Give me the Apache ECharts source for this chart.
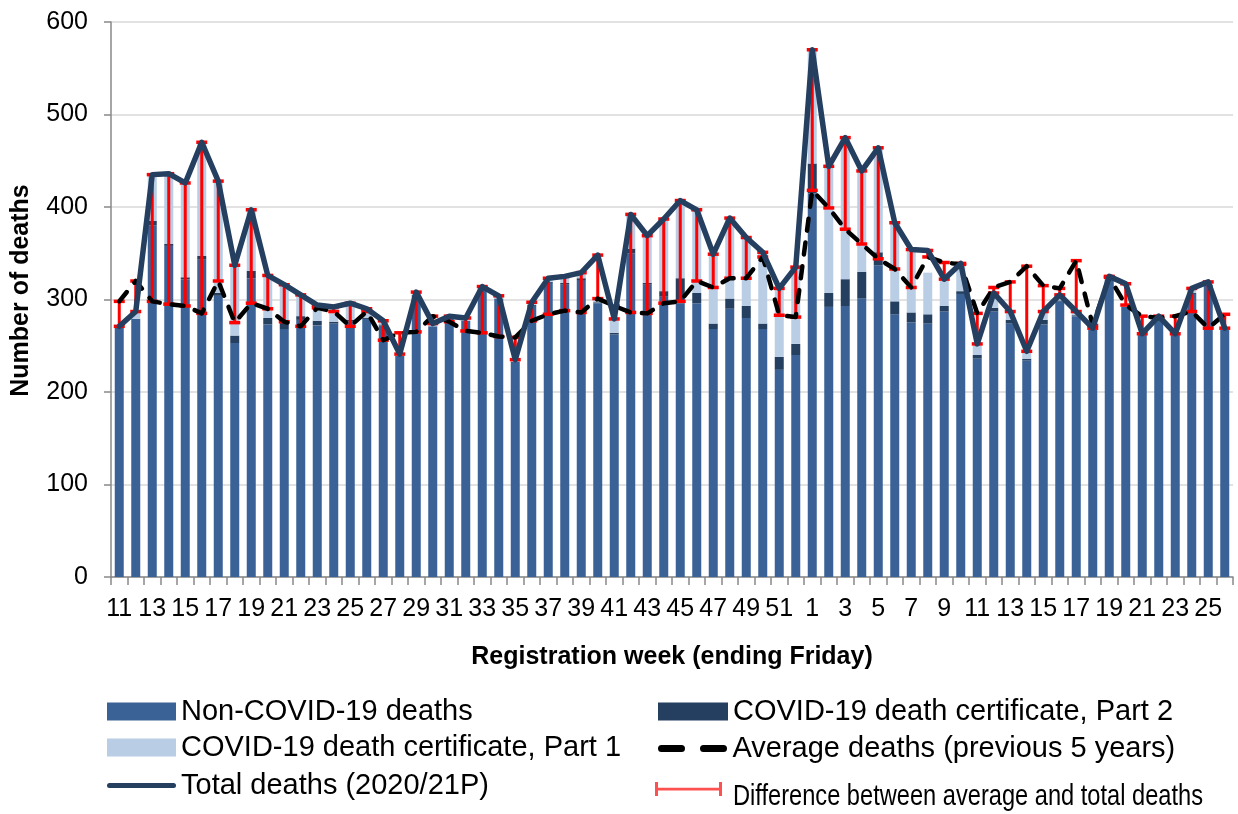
<!DOCTYPE html>
<html>
<head>
<meta charset="utf-8">
<script src="https://cdn.jsdelivr.net/npm/echarts@6/dist/echarts.min.js"></script>
<style>
  html, body { margin: 0; padding: 0; background: #fff; }
  #chart { width: 1238px; height: 814px; }
</style>
</head>
<body>
<div id="chart"></div>
<script>
// ---- Data ----
const weeks2020 = ['11','12','13','14','15','16','17','18','19','20','21','22','23','24','25','26','27','28','29','30','31','32','33','34','35','36','37','38','39','40','41','42','43','44','45','46','47','48','49','50','51','52'];
const weeks2021 = ['1','2','3','4','5','6','7','8','9','10','11','12','13','14','15','16','17','18','19','20','21','22','23','24','25','26'];

const nonCovid = [271,279,380,358,322,343,304,253,323,273,268,278,272,274,276,279,272,239,305,271,279,277,311,301,233,293,318,316,321,296,262,350,316,303,296,296,268,290,280,268,224,240,
                  415,292,293,301,337,284,275,274,287,306,236,287,274,234,273,298,282,267,322,292,262,279,262,306,316,267];
const covidPart2 = [0,0,5,2,2,4,3,8,8,7,7,4,5,2,2,1,1,0,0,0,0,0,0,0,0,1,1,2,2,1,2,5,2,6,27,11,6,11,13,6,14,12,
                    32,15,29,29,14,14,11,10,6,3,4,4,4,2,5,1,1,0,0,0,0,0,0,1,0,0];
const covidPart1 = [0,8,50,76,102,123,121,76,66,46,41,23,17,16,18,10,4,2,3,3,3,3,3,3,2,3,4,7,6,3,14,37,51,78,84,90,75,87,74,77,74,83,
                    123,137,153,109,113,85,68,45,27,30,11,16,9,8,9,6,4,2,3,1,1,3,1,5,3,2];
const totalDeaths = [271,287,435,436,426,470,428,337,397,326,316,305,294,292,296,290,277,241,308,274,282,280,314,304,235,297,323,325,329,348,279,392,369,387,407,397,349,388,367,351,312,335,
                     570,444,475,439,464,383,354,353,322,339,252,307,287,244,287,305,287,269,325,317,263,282,263,312,319,269];
const averageDeaths = [298,320,298,295,293,285,320,275,296,290,276,271,291,287,271,287,256,264,265,282,276,266,264,260,259,277,284,288,286,301,293,286,285,296,298,320,313,323,323,346,283,281,
                       418,399,376,360,344,333,313,346,340,338,285,313,319,336,315,312,342,272,324,294,282,280,282,287,269,284];
const yTicks = [0,100,200,300,400,500,600];

// ---- Build ----
const categories = weeks2020.map(w => '2020-W' + w).concat(weeks2021.map(w => '2021-W' + w));
const diffData = categories.map((c, i) => [i, averageDeaths[i], totalDeaths[i]]);

const FONT = "'Liberation Sans', Arial, sans-serif";
const C_NON = '#3A6296';
const C_P2 = '#243F60';
const C_P1 = '#B9CDE5';
const C_TOTAL = '#243F60';
const C_RED = '#FF0000';
const DIFF_NAME = 'Difference between average and total deaths';

const chart = echarts.init(document.getElementById('chart'), null, { renderer: 'canvas' });

function legendBase(left, top, name, extra) {
  return Object.assign({
    left: left, top: top, padding: 0, itemGap: 0,
    orient: 'horizontal', selectedMode: false,
    itemWidth: 69, itemHeight: 18,
    textStyle: { fontFamily: FONT, fontSize: 29, color: '#000' },
    data: [name]
  }, extra || {});
}

const option = {
  backgroundColor: '#fff',
  animation: false,
  grid: { left: 111, right: 5, top: 22, bottom: 237, containLabel: false },
  legend: [
    legendBase(107, 697, 'Non-COVID-19 deaths', { data: [{ name: 'Non-COVID-19 deaths', icon: 'rect' }] }),
    legendBase(658, 697, 'COVID-19 death certificate, Part 2', { itemWidth: 70, data: [{ name: 'COVID-19 death certificate, Part 2', icon: 'rect' }] }),
    legendBase(107, 733, 'COVID-19 death certificate, Part 1', { data: [{ name: 'COVID-19 death certificate, Part 1', icon: 'rect' }] }),
    legendBase(658, 734, 'Average deaths (previous 5 years)', {
      itemWidth: 70, itemHeight: 7,
      data: [{ name: 'Average deaths (previous 5 years)', icon: 'path://M3,0h20a3,3 0 0 1 0,7h-20a3,3 0 0 1 0,-7z M45,0h20a3,3 0 0 1 0,7h-20a3,3 0 0 1 0,-7z', itemStyle: { color: '#000' } }]
    }),
    legendBase(107, 771, 'Total deaths (2020/21P)', {
      itemHeight: 5,
      data: [{ name: 'Total deaths (2020/21P)', icon: 'path://M2.5,0h64a2.5,2.5 0 0 1 0,5h-64a2.5,2.5 0 0 1 0,-5z', itemStyle: { color: C_TOTAL } }]
    }),
    {
      left: 655, top: 782, padding: 0, selectedMode: false,
      itemWidth: 67, itemHeight: 14,
      formatter: () => '',
      textStyle: { fontSize: 1 },
      data: [{ name: DIFF_NAME, icon: 'path://M0,0h3v14h-3z M3,5.8h61v2.6h-61z M64,0h3v14h-3z', itemStyle: { color: '#FF5050' } }]
    }
  ],
  graphic: [
    {
      type: 'text',
      x: 733, y: 797,
      scaleX: 0.815,
      silent: true,
      style: {
        text: DIFF_NAME,
        x: 0, y: 0,
        fill: '#000',
        font: "29px 'Liberation Sans', Arial, sans-serif",
        align: 'left',
        verticalAlign: 'middle'
      }
    }
  ],
  xAxis: {
    type: 'category',
    data: categories,
    boundaryGap: true,
    name: 'Registration week (ending Friday)',
    nameLocation: 'middle',
    nameGap: 68,
    nameTextStyle: { fontFamily: FONT, fontSize: 25, fontWeight: 'bold', color: '#000' },
    axisLine: { show: true, lineStyle: { color: '#898989', width: 1.5 } },
    axisTick: { show: true, interval: 0, length: 8, lineStyle: { color: '#898989', width: 1.5 } },
    axisLabel: {
      interval: 1, margin: 20,
      fontFamily: FONT, fontSize: 25, color: '#000',
      formatter: v => v.split('W')[1]
    },
    splitLine: { show: false }
  },
  yAxis: {
    type: 'value',
    min: yTicks[0], max: yTicks[yTicks.length - 1], interval: 100,
    name: 'Number of deaths',
    nameLocation: 'middle',
    nameGap: 77,
    nameTextStyle: { fontFamily: FONT, fontSize: 25, fontWeight: 'bold', color: '#000', padding: [0, 0, 0, 18] },
    axisLine: { show: true, lineStyle: { color: '#898989', width: 1.5 } },
    axisTick: { show: true, length: 7, lineStyle: { color: '#898989', width: 1.5 } },
    axisLabel: { margin: 23, fontFamily: FONT, fontSize: 25, color: '#000' },
    splitLine: { show: true, lineStyle: { color: '#D9D9D9', width: 1.5 } }
  },
  series: [
    {
      name: 'Non-COVID-19 deaths', type: 'bar', stack: 'deaths',
      barWidth: 9, data: nonCovid, itemStyle: { color: C_NON }, z: 2
    },
    {
      name: 'COVID-19 death certificate, Part 2', type: 'bar', stack: 'deaths',
      barWidth: 9, data: covidPart2, itemStyle: { color: C_P2 }, z: 2
    },
    {
      name: 'COVID-19 death certificate, Part 1', type: 'bar', stack: 'deaths',
      barWidth: 9, data: covidPart1, itemStyle: { color: C_P1 }, z: 2
    },
    {
      name: DIFF_NAME, type: 'custom',
      data: diffData,
      encode: { x: 0, y: [1, 2] },
      itemStyle: { color: C_RED },
      z: 3,
      renderItem: function (params, api) {
        const x = api.value(0);
        const a = api.coord([x, api.value(1)]);
        const b = api.coord([x, api.value(2)]);
        const hw = 5.5;
        return {
          type: 'group',
          children: [
            { type: 'line', shape: { x1: a[0], y1: a[1], x2: b[0], y2: b[1] }, style: { stroke: C_RED, lineWidth: 3 } },
            { type: 'line', shape: { x1: a[0] - hw, y1: a[1], x2: a[0] + hw, y2: a[1] }, style: { stroke: C_RED, lineWidth: 3.5 } },
            { type: 'line', shape: { x1: b[0] - hw, y1: b[1], x2: b[0] + hw, y2: b[1] }, style: { stroke: C_RED, lineWidth: 3.5 } }
          ]
        };
      }
    },
    {
      name: 'Average deaths (previous 5 years)', type: 'line',
      data: averageDeaths, symbol: 'none', showSymbol: false,
      lineStyle: { color: '#000', width: 4.5, type: [12, 12], cap: 'round', join: 'round' },
      itemStyle: { color: '#000' },
      z: 4
    },
    {
      name: 'Total deaths (2020/21P)', type: 'line',
      data: totalDeaths, symbol: 'none', showSymbol: false,
      lineStyle: { color: C_TOTAL, width: 5.5, cap: 'round', join: 'round' },
      itemStyle: { color: C_TOTAL },
      z: 5
    }
  ]
};

chart.setOption(option);
</script>
</body>
</html>
